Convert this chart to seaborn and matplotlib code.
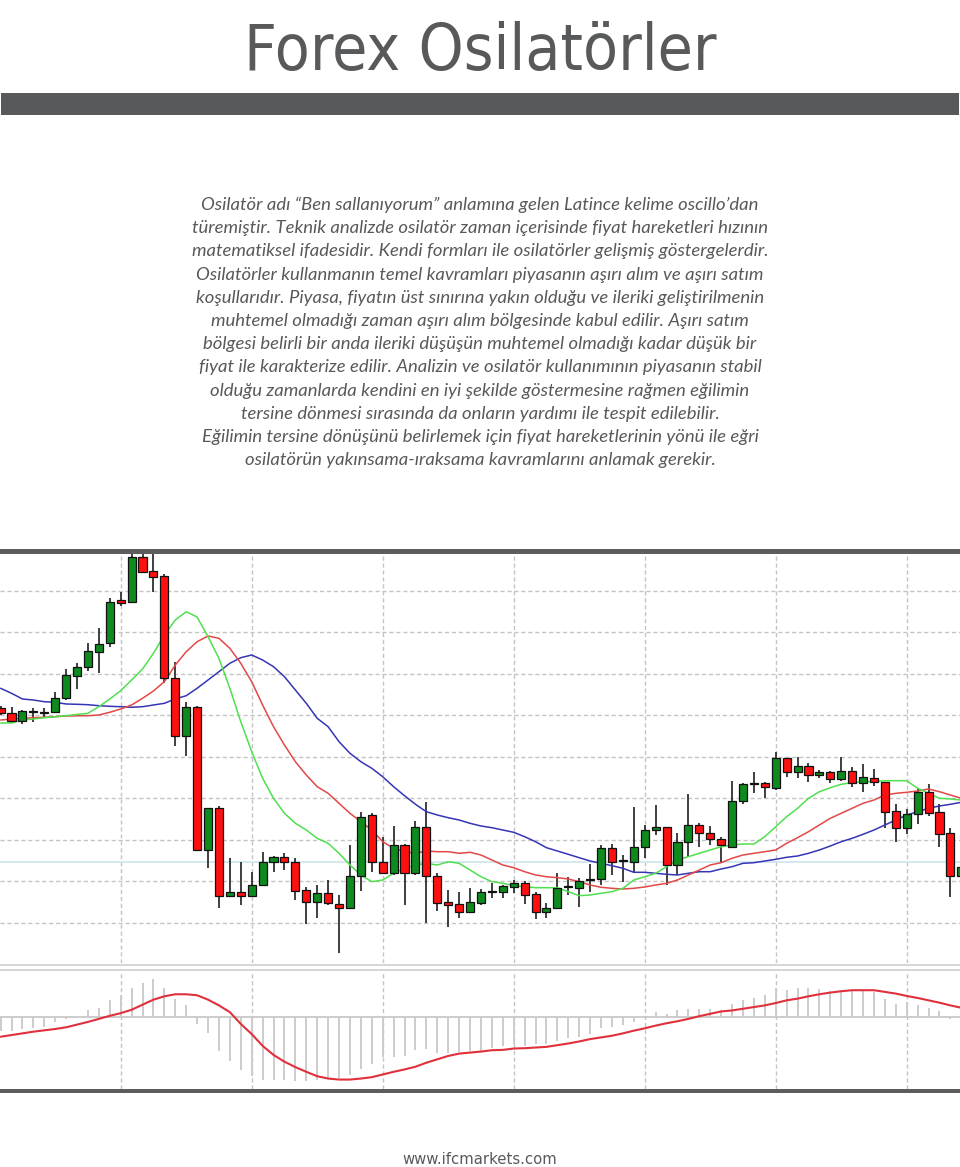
import numpy as np
import pandas as pd
import matplotlib
matplotlib.use("Agg")
import matplotlib.pyplot as plt
from matplotlib.patches import Rectangle
from matplotlib import font_manager as fm
import seaborn as sns

# ---------------- text ----------------
TITLE = "Forex Osilatörler"
PARAGRAPH = [
    "Osilatör adı “Ben sallanıyorum” anlamına gelen Latince kelime oscillo’dan",
    "türemiştir. Teknik analizde osilatör zaman içerisinde fiyat hareketleri hızının",
    "matematiksel ifadesidir. Kendi formları ile osilatörler gelişmiş göstergelerdir.",
    "Osilatörler kullanmanın temel kavramları piyasanın aşırı alım ve aşırı satım",
    "koşullarıdır. Piyasa, fiyatın üst sınırına yakın olduğu ve ileriki geliştirilmenin",
    "muhtemel olmadığı zaman aşırı alım bölgesinde kabul edilir. Aşırı satım",
    "bölgesi belirli bir anda ileriki düşüşün muhtemel olmadığı kadar düşük bir",
    "fiyat ile karakterize edilir. Analizin ve osilatör kullanımının piyasanın stabil",
    "olduğu zamanlarda kendini en iyi şekilde göstermesine rağmen eğilimin",
    "tersine dönmesi sırasında da onların yardımı ile tespit edilebilir.",
    "Eğilimin tersine dönüşünü belirlemek için fiyat hareketlerinin yönü ile eğri",
    "osilatörün yakınsama-ıraksama kavramlarını anlamak gerekir.",
]
FOOTER = "www.ifcmarkets.com"

# ---------------- candle data (price units) ----------------
opens = [291.7, 286.7, 279.0, 288.0, 287.0, 288.3, 301.7, 324.3, 333.3, 348.3,
         356.7, 399.7, 397.7, 443.3, 429.0, 424.0, 322.3, 264.3, 293.3, 149.7,
         191.7, 104.0, 108.3, 104.0, 115.0, 138.3, 143.3, 138.3, 110.0, 97.7,
         106.7, 95.7, 91.7, 124.3, 185.0, 137.7, 127.3, 155.0, 126.7, 172.7,
         124.3, 97.7, 95.7, 88.3, 96.7, 108.0, 108.3, 113.3, 116.7, 105.7,
         87.7, 91.7, 113.0, 112.3, 120.5, 120.7, 152.3, 139.0, 138.3, 153.3,
         170.0, 172.7, 135.0, 158.3, 175.0, 166.7, 160.7, 153.3, 199.0, 216.5,
         217.3, 212.3, 241.7, 228.3, 234.3, 225.0, 227.7, 220.7, 229.0, 217.3,
         222.3, 217.7, 189.3, 172.3, 185.7, 207.7, 188.3, 166.7, 124.0]
highs = [294.0, 293.3, 290.0, 291.7, 292.3, 308.3, 330.7, 336.7, 356.7, 372.3,
         402.3, 407.7, 445.7, 445.7, 446.7, 426.0, 338.3, 298.3, 294.0, 192.0,
         194.0, 141.7, 137.7, 128.3, 147.7, 144.0, 146.7, 141.7, 113.3, 115.0,
         120.0, 105.0, 155.0, 188.3, 187.3, 163.3, 174.3, 156.0, 179.0, 198.3,
         126.7, 110.0, 108.3, 111.7, 111.0, 116.7, 115.0, 120.0, 119.0, 108.3,
         96.7, 126.7, 123.3, 121.7, 135.7, 155.0, 155.7, 145.0, 193.3, 175.0,
         195.0, 173.0, 166.7, 205.7, 176.7, 174.0, 163.3, 219.0, 217.3, 228.3,
         218.3, 247.7, 242.3, 243.3, 236.7, 230.0, 229.3, 243.3, 233.3, 235.7,
         231.0, 218.0, 195.7, 191.0, 212.3, 215.7, 195.7, 171.7, 134.0]
lows = [285.0, 276.7, 276.0, 278.3, 283.3, 286.7, 300.0, 311.0, 329.0, 326.7,
        353.3, 394.3, 396.7, 426.7, 407.7, 317.0, 254.0, 244.3, 149.0, 132.3,
        91.7, 103.3, 95.0, 103.3, 114.3, 127.7, 130.0, 100.0, 75.7, 81.7,
        95.0, 46.7, 91.0, 109.0, 128.3, 126.7, 125.0, 95.0, 125.0, 76.7,
        89.0, 73.3, 81.7, 86.7, 95.0, 102.3, 101.7, 106.7, 95.7, 81.0,
        81.7, 91.0, 105.0, 93.3, 108.3, 115.0, 125.0, 118.3, 126.7, 141.7,
        165.0, 115.0, 125.0, 143.3, 153.3, 155.0, 138.3, 153.0, 195.7, 206.7,
        202.3, 210.0, 223.3, 221.7, 217.7, 221.7, 216.7, 219.0, 213.3, 207.7,
        214.3, 171.7, 158.3, 166.3, 175.7, 184.3, 153.3, 103.3, 122.0]
closes = [286.7, 279.0, 289.0, 288.5, 287.5, 301.7, 325.0, 333.3, 349.0, 356.3,
          398.3, 396.7, 443.3, 428.3, 423.3, 322.5, 264.3, 293.3, 149.7, 191.7,
          104.0, 108.3, 104.0, 115.0, 137.7, 143.3, 138.3, 109.3, 97.7, 107.3,
          96.7, 91.7, 124.3, 183.3, 138.3, 127.3, 155.0, 127.3, 172.7, 124.3,
          96.7, 95.0, 88.3, 97.7, 108.3, 108.5, 114.3, 116.7, 105.0, 88.3,
          91.7, 112.3, 113.5, 119.3, 121.0, 152.3, 138.3, 139.5, 153.3, 170.0,
          172.7, 135.0, 158.3, 175.0, 166.7, 160.7, 155.0, 199.0, 216.0, 217.0,
          212.7, 241.7, 228.3, 234.3, 225.0, 228.3, 220.7, 229.0, 217.3, 223.3,
          218.3, 188.3, 171.7, 185.7, 207.7, 186.7, 165.7, 124.0, 133.3]

# moving averages
ma_fast = [277.0, 277.0, 280.0, 281.0, 282.3, 283.3, 284.3, 285.5, 286.7, 293.3,
           301.0, 309.3, 320.0, 331.0, 346.7, 365.0, 380.0, 388.3, 383.0, 363.3,
           341.7, 311.7, 278.3, 248.3, 221.7, 201.7, 186.7, 176.7, 170.0, 161.7,
           156.7, 146.7, 135.0, 125.0, 118.3, 120.0, 126.7, 131.7, 135.0, 136.7,
           135.0, 138.3, 136.7, 130.0, 123.3, 118.3, 116.7, 114.3, 113.3, 112.3,
           112.3, 112.3, 108.3, 104.3, 105.0, 106.7, 108.3, 111.7, 120.0, 123.3,
           126.7, 133.3, 140.0, 143.3, 146.7, 150.0, 153.3, 155.0, 156.0, 156.0,
           163.3, 173.3, 183.3, 191.7, 201.7, 208.3, 212.3, 215.7, 217.3, 218.3,
           218.3, 219.3, 219.3, 219.3, 211.7, 206.7, 201.7, 201.0, 200.0]
ma_mid = [280.0, 281.0, 281.7, 282.3, 282.7, 283.3, 284.0, 284.2, 284.3, 285.0,
          287.7, 291.0, 295.0, 301.7, 309.0, 318.3, 335.0, 348.3, 358.3, 364.0,
          361.7, 351.7, 336.7, 318.3, 295.0, 273.3, 255.0, 238.3, 225.0, 213.3,
          206.7, 196.7, 186.7, 178.3, 170.0, 158.3, 151.7, 148.3, 146.7, 149.0,
          148.3, 148.3, 146.7, 147.7, 145.0, 140.0, 135.0, 132.3, 128.3, 125.0,
          123.3, 122.3, 121.0, 118.3, 115.0, 112.7, 111.7, 111.0, 111.7, 113.0,
          115.0, 116.7, 120.0, 125.0, 130.0, 135.0, 137.3, 141.7, 145.0, 146.7,
          148.3, 150.0, 156.7, 162.3, 168.3, 175.0, 181.7, 186.7, 191.7, 196.7,
          200.0, 205.0, 206.7, 207.7, 209.0, 211.0, 208.3, 205.0, 201.7]
ma_slow = [311.7, 306.7, 301.0, 300.0, 298.3, 297.7, 296.0, 295.7, 295.3, 294.3,
           293.7, 293.3, 292.7, 293.3, 295.0, 296.7, 301.0, 304.3, 311.7, 320.0,
           328.3, 336.7, 342.3, 345.0, 340.0, 333.3, 323.3, 310.0, 296.7, 281.7,
           273.3, 258.3, 246.7, 238.3, 231.7, 223.3, 213.3, 204.3, 195.7, 188.3,
           185.0, 182.3, 180.0, 176.7, 174.0, 172.3, 170.0, 167.7, 163.3, 158.3,
           152.3, 149.0, 145.7, 142.3, 139.0, 136.7, 134.3, 131.7, 127.7, 127.7,
           126.7, 125.7, 125.0, 126.7, 128.3, 128.3, 131.0, 133.3, 136.7, 137.3,
           139.0, 140.7, 142.7, 144.0, 146.7, 150.0, 154.0, 158.3, 161.7, 165.7,
           170.0, 175.0, 180.0, 185.0, 188.3, 191.7, 194.0, 195.7, 197.7]
last_price = 138.3

# oscillator (MACD-type) panel
hist = [-40, -40, -35, -32, -28, -15, -5, 3, 20, 28,
        50, 65, 88, 102, 112, 88, 55, 37, -20, -48,
        -100, -130, -158, -175, -185, -185, -185, -188, -190, -185,
        -183, -180, -172, -155, -140, -118, -118, -115, -98, -95,
        -105, -105, -102, -100, -100, -90, -85, -80, -85, -80,
        -80, -70, -62, -58, -50, -32, -30, -22, -15, -3,
        15, 10, 20, 24, 25, 23, 22, 38, 50, 58,
        65, 88, 82, 88, 88, 85, 78, 80, 80, 78,
        75, 55, 40, 45, 37, 28, 17, -5, -10]
signal = [-58, -53, -48, -43, -39, -35, -30, -22, -14, -5,
          4, 12, 22, 37, 52, 62, 68, 68, 65, 52,
          35, 15, -20, -50, -85, -112, -132, -148, -162, -175,
          -182, -185, -185, -182, -178, -170, -162, -155, -147, -135,
          -125, -115, -108, -105, -102, -98, -97, -93, -92, -90,
          -88, -83, -78, -72, -65, -60, -55, -48, -40, -33,
          -25, -18, -12, -5, 3, 10, 17, 20, 25, 30,
          35, 42, 50, 55, 62, 68, 73, 77, 80, 80,
          80, 75, 70, 63, 57, 50, 43, 35, 28]

df = pd.DataFrame({"open": opens, "high": highs, "low": lows, "close": closes,
                   "fast": ma_fast, "mid": ma_mid, "slow": ma_slow,
                   "hist": hist, "signal": signal})
df["idx"] = np.arange(len(df))

# ---------------- style ----------------
sns.set_theme(style="white")
plt.rcParams['font.family'] = ['DejaVu Sans']


def find_condensed():
    """Pick an installed narrow/condensed upright sans font, if any."""
    best = None
    for f in fm.fontManager.ttflist:
        name = f.name.lower()
        fname = f.fname.lower()
        if f.style != "normal":
            continue
        narrow = ("narrow" in name or "condensed" in name or "narrow" in fname
                  or "condensed" in fname
                  or str(f.stretch) in ("condensed", "semi-condensed",
                                        "extra-condensed", "ultra-condensed"))
        if not narrow:
            continue
        w = f.weight if isinstance(f.weight, int) else 400
        if "bold" in fname or "black" in fname or "oblique" in fname or "italic" in fname:
            continue
        score = abs(w - 400)
        if best is None or score < best[0]:
            best = (score, f.fname)
    return best[1] if best else None


COND_PATH = find_condensed()


def cond_props(size):
    if COND_PATH:
        return fm.FontProperties(fname=COND_PATH, size=size)
    return fm.FontProperties(family="DejaVu Sans", size=size)


W, H = 960, 1167
fig = plt.figure(figsize=(W / 100, H / 100), dpi=100)
fig.patch.set_facecolor("white")
renderer = fig.canvas.get_renderer()


def fy(y):
    return 1 - y / H


def fit_text(x, y, s, target_w, size, color):
    t = fig.text(x, y, s, ha="center", va="baseline", color=color,
                 fontproperties=cond_props(size))
    w = t.get_window_extent(renderer=renderer).width
    if w > 0:
        t.set_fontproperties(cond_props(size * target_w / w))
    return t


TEXT_GREY = "#58595b"
BAR_GREY = "#58595b"

# title and header bar
fit_text(0.5, fy(70), TITLE, 473, 60, TEXT_GREY)
fig.add_artist(Rectangle((1 / W, fy(115)), 958 / W, 22 / H,
                         transform=fig.transFigure, color=BAR_GREY, lw=0))

# paragraph
for k, line in enumerate(PARAGRAPH):
    fig.text(0.5, fy(210 + 23.2 * k), line, ha="center", va="baseline",
             fontsize=13.3, style="italic", color=TEXT_GREY,
             family=["Lato", "DejaVu Sans"])

# footer
fit_text(0.5, fy(1164), FOOTER, 154, 15, TEXT_GREY)

# chart frame bars
fig.add_artist(Rectangle((0, fy(554)), 1, 5 / H, transform=fig.transFigure,
                         color="#5d5d5d", lw=0, zorder=5))
fig.add_artist(Rectangle((0, fy(1093)), 1, 4 / H, transform=fig.transFigure,
                         color="#5d5d5d", lw=0, zorder=5))
fig.add_artist(Rectangle((0, fy(965.5)), 1, 2 / H, transform=fig.transFigure,
                         color="#d6d6d6", lw=0, zorder=5))
fig.add_artist(Rectangle((0, fy(970.5)), 1, 2 / H, transform=fig.transFigure,
                         color="#d6d6d6", lw=0, zorder=5))

XLIM = (-0.055, 87.88)
VGRID = np.arange(11, 89, 12)
GRID_KW = dict(color="#c4c4c4", lw=1.0, ls=(0, (3, 2)))

# ---------------- main price panel ----------------
ax = fig.add_axes([0, fy(963), 1, (963 - 554) / H])
ax.set_facecolor("white")
for s in ax.spines.values():
    s.set_visible(False)
ax.set_xlim(*XLIM)
ax.set_ylim(37, 446)
ax.set_xticks(VGRID)
ax.set_yticks(77.3 + 41.5 * np.arange(9))
ax.tick_params(length=0, labelleft=False, labelbottom=False)
ax.grid(True, **GRID_KW)
ax.set_axisbelow(True)

ax.axhline(last_price, color="#cfe7ee", lw=1.3, zorder=1)

up = df["close"] >= df["open"]
body_bottom = np.minimum(df["open"], df["close"])
body_height = np.maximum((df["close"] - df["open"]).abs(), 0.7)
colors = np.where(up, "#0f8a1f", "#ff1010")

ax.vlines(df["idx"], df["low"], df["high"], color="#303030", lw=1.3, zorder=2)

sns.lineplot(data=df, x="idx", y="slow", ax=ax, color="#3535b5", lw=1.1, zorder=3)
sns.lineplot(data=df, x="idx", y="mid", ax=ax, color="#e34848", lw=1.1, zorder=3)
sns.lineplot(data=df, x="idx", y="fast", ax=ax, color="#4fe04f", lw=1.1, zorder=3)

ax.bar(df["idx"], body_height, bottom=body_bottom, width=0.74, color=colors,
       edgecolor="#111111", linewidth=0.9, zorder=4)
ax.set_xlabel("")
ax.set_ylabel("")
ax.set_xlim(*XLIM)
ax.set_ylim(37, 446)

# ---------------- oscillator panel ----------------
ax2 = fig.add_axes([0, fy(1089), 1, (1089 - 971) / H])
ax2.set_facecolor("white")
for s in ax2.spines.values():
    s.set_visible(False)
ax2.set_xlim(*XLIM)
ax2.set_ylim(-213, 137)
ax2.set_xticks(VGRID)
ax2.set_yticks([])
ax2.tick_params(length=0, labelleft=False, labelbottom=False)
ax2.grid(True, axis="x", **GRID_KW)
ax2.set_axisbelow(True)
ax2.axhline(0, color="#c8c8c8", lw=1.3, zorder=1)
ax2.vlines(df["idx"], 0, df["hist"], color="#cccccc", lw=1.4, zorder=2)
sns.lineplot(data=df, x="idx", y="signal", ax=ax2, color="#e0303c", lw=1.5, zorder=3)
ax2.set_xlabel("")
ax2.set_ylabel("")
ax2.set_xlim(*XLIM)
ax2.set_ylim(-213, 137)

fig.savefig("out.png", dpi=100, facecolor="white")
